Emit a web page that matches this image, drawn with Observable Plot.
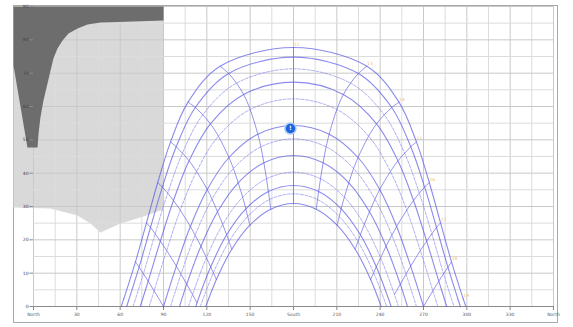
<!DOCTYPE html>
<html>
<head>
<meta charset="utf-8">
<script src="https://cdn.jsdelivr.net/npm/d3@7"></script>
<script src="https://cdn.jsdelivr.net/npm/@observablehq/plot@0.6"></script>
<style>
  html, body { margin: 0; padding: 0; background: #ffffff; }
  #chart svg {
    display: block;
    background:
      linear-gradient(to bottom, #b3b3b3 0px, #b3b3b3 5px, rgba(0,0,0,0) 5px, rgba(0,0,0,0) 322px, #a9a9a9 322px),
      linear-gradient(to right, #f0f0f0 0px, #d4d4d4 13px, #e6e6e6 557px, #f2f2f2 573px);
  }
</style>
</head>
<body>
<div id="chart"></div>
<script>
// ---- Axis ticks / labels ----
const xTicks = [0, 30, 60, 90, 120, 150, 180, 210, 240, 270, 300, 330, 360];
const xTickLabels = ["North", "30", "60", "90", "120", "150", "South", "210", "240", "270", "300", "330", "North"];
const yTicks = [0, 10, 20, 30, 40, 50, 60, 70, 80, 90];
const yTickLabels = ["0", "10", "20", "30", "40", "50", "60", "70", "80", "90"];
const xGrid = [0, 15, 30, 45, 60, 75, 90, 105, 120, 135, 150, 165, 180, 195, 210, 225, 240, 255, 270, 285, 300, 315, 330, 345, 360];
const yGrid = [0, 5, 10, 15, 20, 25, 30, 35, 40, 45, 50, 55, 60, 65, 70, 75, 80, 85, 90];

// ---- Horizon / shading profiles [azimuth, altitude] ----
const farShading = [[-13.85, 90], [90, 90], [90, 29.1], [74.1, 26.7], [60.2, 24.9], [46.4, 22.2], [39.5, 24.9], [30.5, 27.3], [11.8, 29.4], [-13.85, 29.7]];
const nearShading = [[-13.85, 90], [90, 90], [90, 85.8], [53.3, 85.3], [46.4, 85.2], [37.4, 84.6], [30.5, 83.4], [24.2, 81.9], [20.1, 79.8], [16.6, 77.4], [13.8, 74.4], [11.8, 70.8], [9.7, 66.9], [6.9, 61.8], [4.8, 56.7], [3.5, 51.9], [2.8, 47.7], [-4.2, 47.7], [-13.85, 72.3]];

// ---- Sun paths: [hour, azimuth, altitude] (hour null = sunrise/sunset) ----
const path1 = [[null,60.7,0],[5,62.5,2.3],[6,70.6,13.4],[7,78.2,25.1],[8,86.0,37.2],[9,94.9,49.4],[10,107.0,61.3],[11,129.2,72.1],[12,180,77.7],[13,230.8,72.1],[14,253.0,61.3],[15,265.1,49.4],[16,274.0,37.2],[17,281.8,25.1],[18,289.4,13.4],[19,297.5,2.3],[null,299.3,0]];
const path2 = [[null,64.5,0],[6,73.1,11.8],[7,81.0,23.7],[8,89.2,35.8],[9,98.8,47.9],[10,112.0,59.7],[11,135.1,69.9],[12,180,74.8],[13,224.9,69.9],[14,248.0,59.7],[15,261.2,47.9],[16,270.8,35.8],[17,279.0,23.7],[18,286.9,11.8],[null,295.5,0]];
const path3 = [[null,68.9,0],[6,76.1,9.8],[7,84.2,21.8],[8,92.9,34.0],[9,103.1,46.0],[10,117.2,57.5],[11,140.5,67.0],[12,180,71.3],[13,219.5,67.0],[14,242.8,57.5],[15,256.9,46.0],[16,267.1,34.0],[17,275.8,21.8],[18,283.9,9.8],[null,291.1,0]];
const path4 = [[null,73.9,0],[6,79.4,7.6],[7,87.8,19.6],[8,96.9,31.8],[9,107.7,43.7],[10,122.5,54.8],[11,145.5,63.6],[12,180,67.3],[13,214.5,63.6],[14,237.5,54.8],[15,252.3,43.7],[16,263.1,31.8],[17,272.2,19.6],[18,280.6,7.6],[null,286.1,0]];
const path5 = [[null,80.1,0],[6,83.5,4.7],[7,92.2,16.8],[8,101.6,28.9],[9,112.9,40.5],[10,128.0,51.1],[11,150.0,59.1],[12,180,62.3],[13,210.0,59.1],[14,232.0,51.1],[15,247.1,40.5],[16,258.4,28.9],[17,267.8,16.8],[18,276.5,4.7],[null,279.9,0]];
const path6 = [[6,90,0],[7,98.9,12.1],[8,108.6,24.0],[9,120.3,35.1],[10,135.3,44.7],[11,155.3,51.7],[12,180,54.3],[13,204.7,51.7],[14,224.7,44.7],[15,239.7,35.1],[16,251.4,24.0],[17,261.1,12.1],[18,270,0]];
const path7 = [[null,94.9,0],[7,102.1,9.7],[8,111.9,21.4],[9,123.6,32.2],[10,138.4,41.4],[11,157.4,47.9],[12,180,50.3],[13,202.6,47.9],[14,221.6,41.4],[15,236.4,32.2],[16,248.1,21.4],[17,257.9,9.7],[null,265.1,0]];
const path8 = [[null,101.1,0],[7,106.1,6.7],[8,115.9,18.1],[9,127.4,28.4],[10,141.7,37.1],[11,159.5,43.1],[12,180,45.3],[13,200.5,43.1],[14,218.3,37.1],[15,232.6,28.4],[16,244.1,18.1],[17,253.9,6.7],[null,258.9,0]];
const path9 = [[null,107.3,0],[7,110.1,3.6],[8,119.7,14.6],[9,131.0,24.6],[10,144.8,32.8],[11,161.3,38.3],[12,180,40.3],[13,198.7,38.3],[14,215.2,32.8],[15,229.0,24.6],[16,240.3,14.6],[17,249.9,3.6],[null,252.7,0]];
const path10 = [[null,112.4,0],[7,113.2,1.1],[8,122.7,11.9],[9,133.7,21.5],[10,147.0,29.3],[11,162.6,34.5],[12,180,36.3],[13,197.4,34.5],[14,213.0,29.3],[15,226.3,21.5],[16,237.3,11.9],[null,247.6,0]];
const path11 = [[null,115.5,0],[8,124.5,10.1],[9,135.4,19.5],[10,148.3,27.0],[11,163.4,32.1],[12,180,33.8],[13,196.6,32.1],[14,211.7,27.0],[15,224.6,19.5],[16,235.5,10.1],[null,244.5,0]];
const path12 = [[null,119.3,0],[8,126.6,8.1],[9,137.3,17.2],[10,149.8,24.4],[11,164.2,29.2],[12,180,30.9],[13,195.8,29.2],[14,210.2,24.4],[15,222.7,17.2],[16,233.4,8.1],[null,240.7,0]];
const pathKinds = ["solid","solid","dashed","solid","dashed","solid","dashed","solid","dashed","solid","dashed","solid"];

// current sun position marker
const sunNow = [[177.9, 53.4]];

// ---- Build table ----
const paths = [path1, path2, path3, path4, path5, path6, path7, path8, path9, path10, path11, path12];
const rows = paths.flatMap((p, i) => p.map(([h, az, alt]) => ({path: i, kind: pathKinds[i], h, az, alt})));
const hourRows = rows.filter(d => d.h !== null);
const hourLabels = rows.filter(d => d.path === 0 && d.h !== null && d.h >= 12);
const poly = a => a.map(([az, alt]) => ({az, alt}));

const blue = "#5a5ae4";
const chart = Plot.plot({
  width: 573,
  height: 327,
  marginLeft: 13,
  marginRight: 16,
  marginTop: 5,
  marginBottom: 5,
  x: {domain: [0, 360], range: [33, 553], axis: null},
  y: {domain: [0, 90], range: [306, 6], axis: null},
  style: {background: "transparent", fontFamily: "DejaVu Sans", overflow: "visible"},
  marks: [
    Plot.frame({fill: "white", stroke: "#a8a8a8"}),
    Plot.line(poly(farShading), {x: "az", y: "alt", fill: "#d9d9d9", stroke: "none"}),
    Plot.ruleX(xGrid, {x: d => d, y1: 0, y2: 90, stroke: d => d % 30 === 0 ? "#c9c9c9" : "#dcdcdc", strokeWidth: 1}),
    Plot.ruleY(yGrid, {y: d => d, x1: 0, x2: 360, stroke: d => d % 10 === 0 ? "#c9c9c9" : "#dcdcdc", strokeWidth: 1}),
    Plot.line(poly(nearShading), {x: "az", y: "alt", fill: "#6d6d6d", stroke: "none"}),
    // axes
    Plot.ruleY([0], {x1: 0, x2: 360, stroke: "#8a8a8a", strokeWidth: 1}),
    Plot.ruleX(xTicks, {x: d => d, y1: 0, y2: -1.2, stroke: "#8a8a8a"}),
    Plot.ruleY(yTicks, {y: d => d, x1: -2.5, x2: 0, stroke: "#8a8a8a"}),
    Plot.text(xTicks, {x: d => d, y: 0, text: (d, i) => xTickLabels[i], dy: 8, fontSize: 4.5, fill: "#555"}),
    Plot.text(yTicks, {x: 0, y: d => d, text: (d, i) => yTickLabels[i], textAnchor: "end", dx: -5, fontSize: 4.5, fill: "#444"}),
    // sun paths
    Plot.line(rows.filter(d => d.kind === "dashed"), {x: "az", y: "alt", z: "path", curve: "catmull-rom", stroke: "#8080ec", strokeWidth: 0.8, strokeDasharray: "3,1.5", strokeOpacity: 0.8}),
    Plot.line(rows.filter(d => d.kind === "solid"), {x: "az", y: "alt", z: "path", curve: "catmull-rom", stroke: blue, strokeWidth: 1.1, strokeOpacity: 0.7}),
    Plot.line(hourRows, {x: "az", y: "alt", z: "h", curve: "catmull-rom", stroke: blue, strokeWidth: 1, strokeOpacity: 0.65}),
    Plot.text(hourLabels, {x: "az", y: "alt", text: d => String(d.h), dx: 3, dy: -3, fontSize: 4.5, fill: "#e8b860", fillOpacity: 0.9}),
    // current sun position
    Plot.dot(sunNow, {x: d => d[0], y: d => d[1], r: 5.5, fill: "#1d63e0", stroke: "#a9c8f5", strokeWidth: 1.5}),
    Plot.text(sunNow, {x: d => d[0], y: d => d[1], text: d => "!", fill: "white", fontSize: 6, fontWeight: "bold"})
  ]
});
document.getElementById("chart").append(chart);
</script>
</body>
</html>
